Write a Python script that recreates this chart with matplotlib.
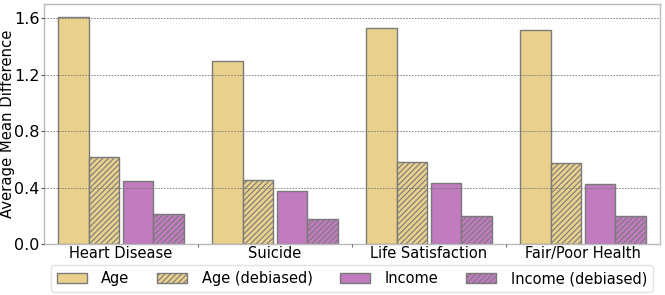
import matplotlib
matplotlib.use("Agg")
import matplotlib.pyplot as plt
import numpy as np

categories = ["Heart Disease", "Suicide", "Life Satisfaction", "Fair/Poor Health"]
series_names = ["Age", "Age (debiased)", "Income", "Income (debiased)"]
age = [1.607, 1.296, 1.529, 1.515]
age_debiased = [0.616, 0.453, 0.580, 0.573]
income = [0.446, 0.375, 0.432, 0.425]
income_debiased = [0.212, 0.177, 0.198, 0.198]
yticks = [0.0, 0.4, 0.8, 1.2, 1.6]

gold = "#E9D08C"
purple = "#C07CBE"
edge = "#7a7a7a"

plt.rcParams['font.family'] = ['DejaVu Sans']
plt.rcParams['hatch.linewidth'] = 0.8

fig = plt.figure(figsize=(6.65, 2.95), dpi=100)
ax = fig.add_axes([44/665, 1-244/295, (660-44)/665, (244-4)/295])

x = np.arange(len(categories))
w = 0.2
offsets = [-0.31, -0.11, 0.11, 0.31]
vals = [age, age_debiased, income, income_debiased]
colors = [gold, gold, purple, purple]
hatches = [None, "//////", None, "//////"]
for name, v, off, c, h in zip(series_names, vals, offsets, colors, hatches):
    ax.bar(x + off, v, width=w, color=c, edgecolor=edge, linewidth=1.0,
           hatch=h, label=name, zorder=2)

ax.set_xlim(-0.5, 3.5)
ax.set_ylim(0, 1.7)
ax.set_yticks(yticks)
ax.set_yticklabels([f"{t:.1f}" for t in yticks], fontsize=11.5)
ax.set_xticks(x)
ax.set_xticklabels(categories, fontsize=10.5)
ax.set_xticks([0.5, 1.5, 2.5], minor=True)
ax.tick_params(axis='x', which='major', length=0, pad=1.5)
ax.tick_params(axis='x', which='minor', length=2, color="#555555")
ax.tick_params(axis='y', length=2, color="#555555", pad=1)
ax.set_ylabel("Average Mean Difference", fontsize=10.7)
ax.yaxis.set_label_coords(-0.047, 0.5)
ax.yaxis.grid(True, linestyle=(0, (2, 1.5)), color="#777777", linewidth=0.6, zorder=3)
ax.set_axisbelow(False)
for s in ax.spines.values():
    s.set_color("#bbbbbb")
    s.set_linewidth(1.0)

leg = ax.legend(loc="upper center", bbox_to_anchor=(0.5, -0.088), ncol=4,
                fontsize=10.5, frameon=True, edgecolor="#dddddd",
                handlelength=2.05, handleheight=0.7, columnspacing=1.9,
                borderpad=0.42, handletextpad=1.0, borderaxespad=0)

fig.savefig("out.png", dpi=100)
